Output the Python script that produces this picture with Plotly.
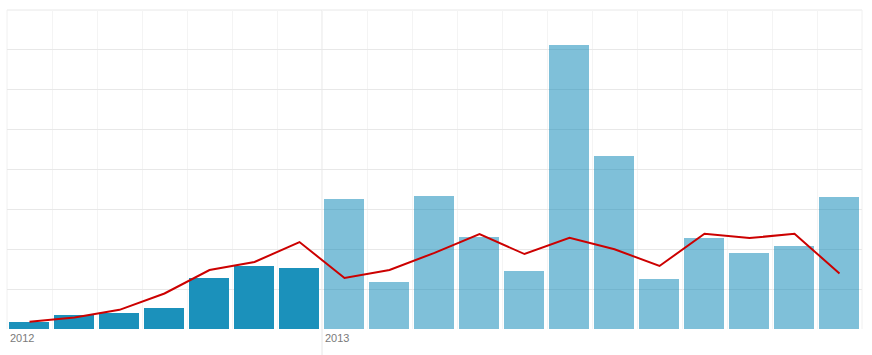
import plotly.graph_objects as go

months = ["2012-06","2012-07","2012-08","2012-09","2012-10","2012-11","2012-12",
          "2013-01","2013-02","2013-03","2013-04","2013-05","2013-06","2013-07",
          "2013-08","2013-09","2013-10","2013-11","2013-12"]
bar_values = [0.18,0.35,0.41,0.53,1.28,1.58,1.53,
              3.25,1.18,3.33,2.31,1.46,7.13,4.35,1.25,2.28,1.91,2.08,3.31]
line_values = [0.18,0.29,0.48,0.89,1.48,1.68,2.18,
               1.28,1.48,1.91,2.38,1.88,2.29,2.0,1.58,2.39,2.28,2.39,1.39]
year_labels = ["2012","2013"]
year_start_index = [0, 7]

x = list(range(len(months)))
bar_colors = ["#1b91bb" if m.startswith("2012") else "rgba(0,130,180,0.5)" for m in months]

fig = go.Figure()
fig.add_trace(go.Bar(x=x, y=bar_values, marker=dict(color=bar_colors, line=dict(width=0)),
                     width=0.89, offset=-0.46, hoverinfo="y"))
fig.add_trace(go.Scatter(x=x, y=line_values, mode="lines",
                         line=dict(color="#cc0000", width=2)))

for lbl, idx in zip(year_labels, year_start_index):
    fig.add_annotation(x=idx - 0.5, y=0, xref="x", yref="y", text=lbl, showarrow=False,
                       xanchor="left", yanchor="top", xshift=1, yshift=-1,
                       font=dict(family="Helvetica, Arial, Liberation Sans, sans-serif", size=11, color="#7a7a7a"))
fig.add_shape(type="line", x0=year_start_index[1] - 0.5, x1=year_start_index[1] - 0.5,
              xref="x", yref="paper", y0=-0.09, y1=1,
              line=dict(color="#e6e6e6", width=1), layer="below")
# frame edges (top, left and right) like the reference grid
fig.add_shape(type="line", xref="paper", yref="paper", x0=0, x1=1, y0=1, y1=1,
              line=dict(color="#e8e8e8", width=1), layer="below")
fig.add_shape(type="line", xref="paper", yref="paper", x0=1, x1=1, y0=0, y1=1,
              line=dict(color="#f0f0f0", width=1), layer="below")
fig.add_shape(type="line", xref="paper", yref="paper", x0=0, x1=0, y0=0, y1=1,
              line=dict(color="#f0f0f0", width=1), layer="below")

fig.update_layout(
    width=872, height=355,
    margin=dict(l=7, r=10, t=10, b=26),
    plot_bgcolor="white", paper_bgcolor="white",
    showlegend=False, bargap=0,
    xaxis=dict(range=[-0.5, len(months) - 0.5], tick0=-0.5, dtick=1,
               showticklabels=False, ticks="", showgrid=True,
               gridcolor="#f4f4f4", gridwidth=1, zeroline=False, showline=False),
    yaxis=dict(range=[0, 8], dtick=1, showticklabels=False, ticks="",
               showgrid=True, gridcolor="#e8e8e8", gridwidth=1, zeroline=False, showline=False),
)
fig.write_html("out.html", config={"displayModeBar": False},
               post_script="document.body.style.margin='0';document.body.style.padding='0';")
